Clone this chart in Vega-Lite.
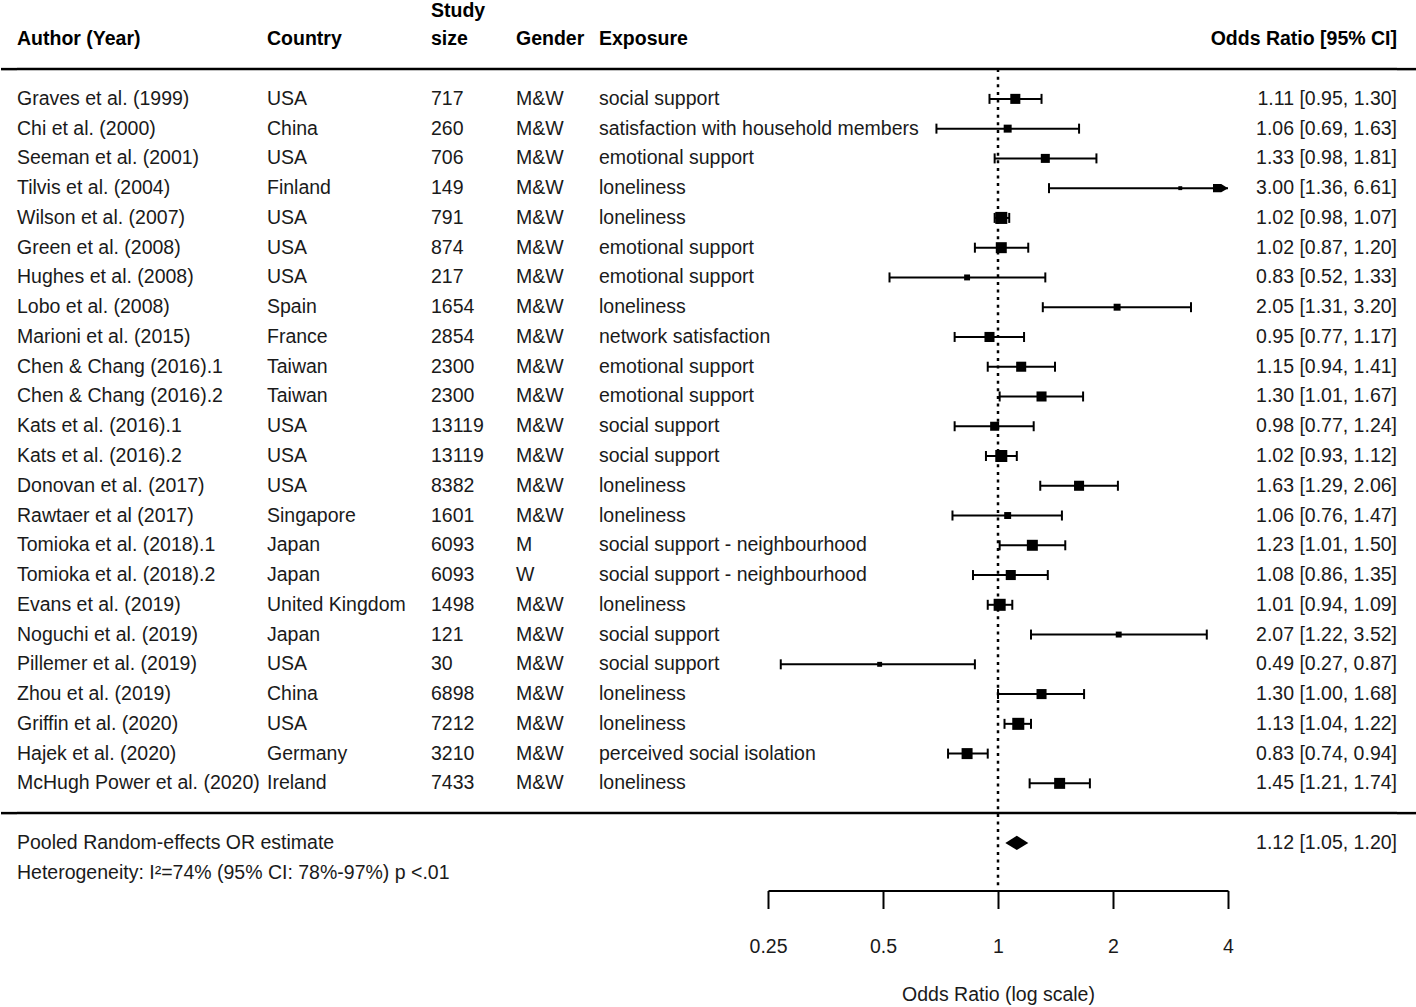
{
  "$schema": "https://vega.github.io/schema/vega-lite/v6.json",
  "padding": {"left": -1, "top": 0.5, "right": 0, "bottom": 0},
  "autosize": {"type": "pad"},
  "spacing": 0,
  "bounds": "flush",
  "config": {
    "view": {"stroke": null},
    "font": "Liberation Sans",
    "text": {"font": "Liberation Sans", "fontSize": 19.5, "color": "#1a1a1a", "baseline": "middle"},
    "axisX": {
      "domainColor": "#000", "domainWidth": 2, "tickColor": "#000", "tickWidth": 2, "tickSize": 18,
      "labelFont": "Liberation Sans", "labelFontSize": 19.5, "labelColor": "#1a1a1a", "labelPadding": 28.6, "labelFlush": false,
      "titleFont": "Liberation Sans", "titleFontSize": 19.5, "titleFontWeight": "normal", "titleColor": "#1a1a1a", "titlePadding": 30,
      "grid": false
    }
  },
  "datasets": {
    "one": [{}],
    "lines": [{"line": "line1"}, {"line": "line2"}],
    "headers": [
      {"col": "author", "label": "Author (Year)"},
      {"col": "country", "label": "Country"},
      {"col": "n_top", "label": "Study"},
      {"col": "n", "label": "size"},
      {"col": "gender", "label": "Gender"},
      {"col": "exposure", "label": "Exposure"},
      {"col": "ci", "label": "Odds Ratio [95% CI]"}
    ],
    "rows": [
      {"author": "Graves et al. (1999)", "country": "USA", "n": 717, "gender": "M&W", "exposure": "social support", "or": 1.11, "lo": 0.95, "hi": 1.30, "weight": 4.6, "ci": "1.11 [0.95, 1.30]"},
      {"author": "Chi et al. (2000)", "country": "China", "n": 260, "gender": "M&W", "exposure": "satisfaction with household members", "or": 1.06, "lo": 0.69, "hi": 1.63, "weight": 2.9, "ci": "1.06 [0.69, 1.63]"},
      {"author": "Seeman et al. (2001)", "country": "USA", "n": 706, "gender": "M&W", "exposure": "emotional support", "or": 1.33, "lo": 0.98, "hi": 1.81, "weight": 3.7, "ci": "1.33 [0.98, 1.81]"},
      {"author": "Tilvis et al. (2004)", "country": "Finland", "n": 149, "gender": "M&W", "exposure": "loneliness", "or": 3.00, "lo": 1.36, "hi": 6.61, "weight": 0.7, "ci": "3.00 [1.36, 6.61]"},
      {"author": "Wilson et al. (2007)", "country": "USA", "n": 791, "gender": "M&W", "exposure": "loneliness", "or": 1.02, "lo": 0.98, "hi": 1.07, "weight": 6.6, "ci": "1.02 [0.98, 1.07]"},
      {"author": "Green et al. (2008)", "country": "USA", "n": 874, "gender": "M&W", "exposure": "emotional support", "or": 1.02, "lo": 0.87, "hi": 1.20, "weight": 5.5, "ci": "1.02 [0.87, 1.20]"},
      {"author": "Hughes et al. (2008)", "country": "USA", "n": 217, "gender": "M&W", "exposure": "emotional support", "or": 0.83, "lo": 0.52, "hi": 1.33, "weight": 1.6, "ci": "0.83 [0.52, 1.33]"},
      {"author": "Lobo et al. (2008)", "country": "Spain", "n": 1654, "gender": "M&W", "exposure": "loneliness", "or": 2.05, "lo": 1.31, "hi": 3.20, "weight": 2.2, "ci": "2.05 [1.31, 3.20]"},
      {"author": "Marioni et al. (2015)", "country": "France", "n": 2854, "gender": "M&W", "exposure": "network satisfaction", "or": 0.95, "lo": 0.77, "hi": 1.17, "weight": 4.6, "ci": "0.95 [0.77, 1.17]"},
      {"author": "Chen & Chang (2016).1", "country": "Taiwan", "n": 2300, "gender": "M&W", "exposure": "emotional support", "or": 1.15, "lo": 0.94, "hi": 1.41, "weight": 4.6, "ci": "1.15 [0.94, 1.41]"},
      {"author": "Chen & Chang (2016).2", "country": "Taiwan", "n": 2300, "gender": "M&W", "exposure": "emotional support", "or": 1.30, "lo": 1.01, "hi": 1.67, "weight": 4.6, "ci": "1.30 [1.01, 1.67]"},
      {"author": "Kats et al. (2016).1", "country": "USA", "n": 13119, "gender": "M&W", "exposure": "social support", "or": 0.98, "lo": 0.77, "hi": 1.24, "weight": 3.7, "ci": "0.98 [0.77, 1.24]"},
      {"author": "Kats et al. (2016).2", "country": "USA", "n": 13119, "gender": "M&W", "exposure": "social support", "or": 1.02, "lo": 0.93, "hi": 1.12, "weight": 6.6, "ci": "1.02 [0.93, 1.12]"},
      {"author": "Donovan et al. (2017)", "country": "USA", "n": 8382, "gender": "M&W", "exposure": "loneliness", "or": 1.63, "lo": 1.29, "hi": 2.06, "weight": 4.6, "ci": "1.63 [1.29, 2.06]"},
      {"author": "Rawtaer et al (2017)", "country": "Singapore", "n": 1601, "gender": "M&W", "exposure": "loneliness", "or": 1.06, "lo": 0.76, "hi": 1.47, "weight": 2.2, "ci": "1.06 [0.76, 1.47]"},
      {"author": "Tomioka et al. (2018).1", "country": "Japan", "n": 6093, "gender": "M", "exposure": "social support - neighbourhood", "or": 1.23, "lo": 1.01, "hi": 1.50, "weight": 5.5, "ci": "1.23 [1.01, 1.50]"},
      {"author": "Tomioka et al. (2018).2", "country": "Japan", "n": 6093, "gender": "W", "exposure": "social support - neighbourhood", "or": 1.08, "lo": 0.86, "hi": 1.35, "weight": 4.6, "ci": "1.08 [0.86, 1.35]"},
      {"author": "Evans et al. (2019)", "country": "United Kingdom", "n": 1498, "gender": "M&W", "exposure": "loneliness", "or": 1.01, "lo": 0.94, "hi": 1.09, "weight": 6.6, "ci": "1.01 [0.94, 1.09]"},
      {"author": "Noguchi et al. (2019)", "country": "Japan", "n": 121, "gender": "M&W", "exposure": "social support", "or": 2.07, "lo": 1.22, "hi": 3.52, "weight": 1.6, "ci": "2.07 [1.22, 3.52]"},
      {"author": "Pillemer et al. (2019)", "country": "USA", "n": 30, "gender": "M&W", "exposure": "social support", "or": 0.49, "lo": 0.27, "hi": 0.87, "weight": 1.1, "ci": "0.49 [0.27, 0.87]"},
      {"author": "Zhou et al. (2019)", "country": "China", "n": 6898, "gender": "M&W", "exposure": "loneliness", "or": 1.30, "lo": 1.00, "hi": 1.68, "weight": 4.6, "ci": "1.30 [1.00, 1.68]"},
      {"author": "Griffin et al. (2020)", "country": "USA", "n": 7212, "gender": "M&W", "exposure": "loneliness", "or": 1.13, "lo": 1.04, "hi": 1.22, "weight": 6.6, "ci": "1.13 [1.04, 1.22]"},
      {"author": "Hajek et al. (2020)", "country": "Germany", "n": 3210, "gender": "M&W", "exposure": "perceived social isolation", "or": 0.83, "lo": 0.74, "hi": 0.94, "weight": 5.5, "ci": "0.83 [0.74, 0.94]"},
      {"author": "McHugh Power et al. (2020)", "country": "Ireland", "n": 7433, "gender": "M&W", "exposure": "loneliness", "or": 1.45, "lo": 1.21, "hi": 1.74, "weight": 5.5, "ci": "1.45 [1.21, 1.74]"},
      {"author": "Pooled Random-effects OR estimate", "or": 1.12, "lo": 1.05, "hi": 1.20, "ci": "1.12 [1.05, 1.20]"},
      {"author": "Heterogeneity: I²=74% (95% CI: 78%-97%) p <.01"}
    ]
  },
  "hconcat": [
    {
      "width": 16, "height": 869,
      "data": {"name": "lines"},
      "mark": {"type": "rule", "strokeWidth": 2.5, "color": "#000"},
      "encoding": {
        "x": {"datum": 0, "type": "quantitative", "scale": {"domain": [0, 1]}, "axis": null},
        "x2": {"datum": 1},
        "y": {"field": "line", "type": "nominal", "axis": null, "scale": {"type": "point", "padding": 0.6, "domain": ["hdr","line1","Graves et al. (1999)","Chi et al. (2000)","Seeman et al. (2001)","Tilvis et al. (2004)","Wilson et al. (2007)","Green et al. (2008)","Hughes et al. (2008)","Lobo et al. (2008)","Marioni et al. (2015)","Chen & Chang (2016).1","Chen & Chang (2016).2","Kats et al. (2016).1","Kats et al. (2016).2","Donovan et al. (2017)","Rawtaer et al (2017)","Tomioka et al. (2018).1","Tomioka et al. (2018).2","Evans et al. (2019)","Noguchi et al. (2019)","Pillemer et al. (2019)","Zhou et al. (2019)","Griffin et al. (2020)","Hajek et al. (2020)","McHugh Power et al. (2020)","line2","Pooled Random-effects OR estimate","Heterogeneity: I²=74% (95% CI: 78%-97%) p <.01"]}}
      }
    },
    {
      "width": 250, "height": 869,
      "encoding": {
        "x": {"datum": 0, "type": "quantitative", "scale": {"domain": [0, 1]}, "axis": null}
      },
      "layer": [
        {
          "data": {"name": "lines"},
          "mark": {"type": "rule", "strokeWidth": 2.5, "color": "#000"},
          "encoding": {
            "x2": {"datum": 1},
            "y": {"field": "line", "type": "nominal", "axis": null, "scale": {"type": "point", "padding": 0.6, "domain": ["hdr","line1","Graves et al. (1999)","Chi et al. (2000)","Seeman et al. (2001)","Tilvis et al. (2004)","Wilson et al. (2007)","Green et al. (2008)","Hughes et al. (2008)","Lobo et al. (2008)","Marioni et al. (2015)","Chen & Chang (2016).1","Chen & Chang (2016).2","Kats et al. (2016).1","Kats et al. (2016).2","Donovan et al. (2017)","Rawtaer et al (2017)","Tomioka et al. (2018).1","Tomioka et al. (2018).2","Evans et al. (2019)","Noguchi et al. (2019)","Pillemer et al. (2019)","Zhou et al. (2019)","Griffin et al. (2020)","Hajek et al. (2020)","McHugh Power et al. (2020)","line2","Pooled Random-effects OR estimate","Heterogeneity: I²=74% (95% CI: 78%-97%) p <.01"]}}
          }
        },
        {
          "data": {"name": "headers"},
          "transform": [{"filter": "datum.col === 'author'"}],
          "mark": {"type": "text", "align": "left", "fontWeight": "bold", "color": "#000"},
          "encoding": {"y": {"datum": "hdr", "type": "nominal"}, "text": {"field": "label"}}
        },
        {
          "data": {"name": "rows"},
          "mark": {"type": "text", "align": "left"},
          "encoding": {"y": {"field": "author", "type": "nominal"}, "text": {"field": "author"}}
        }
      ]
    },
    {
      "width": 164, "height": 869,
      "encoding": {
        "x": {"datum": 0, "type": "quantitative", "scale": {"domain": [0, 1]}, "axis": null}
      },
      "layer": [
        {
          "data": {"name": "lines"},
          "mark": {"type": "rule", "strokeWidth": 2.5, "color": "#000"},
          "encoding": {
            "x2": {"datum": 1},
            "y": {"field": "line", "type": "nominal", "axis": null, "scale": {"type": "point", "padding": 0.6, "domain": ["hdr","line1","Graves et al. (1999)","Chi et al. (2000)","Seeman et al. (2001)","Tilvis et al. (2004)","Wilson et al. (2007)","Green et al. (2008)","Hughes et al. (2008)","Lobo et al. (2008)","Marioni et al. (2015)","Chen & Chang (2016).1","Chen & Chang (2016).2","Kats et al. (2016).1","Kats et al. (2016).2","Donovan et al. (2017)","Rawtaer et al (2017)","Tomioka et al. (2018).1","Tomioka et al. (2018).2","Evans et al. (2019)","Noguchi et al. (2019)","Pillemer et al. (2019)","Zhou et al. (2019)","Griffin et al. (2020)","Hajek et al. (2020)","McHugh Power et al. (2020)","line2","Pooled Random-effects OR estimate","Heterogeneity: I²=74% (95% CI: 78%-97%) p <.01"]}}
          }
        },
        {
          "data": {"name": "headers"},
          "transform": [{"filter": "datum.col === 'country'"}],
          "mark": {"type": "text", "align": "left", "fontWeight": "bold", "color": "#000"},
          "encoding": {"y": {"datum": "hdr", "type": "nominal"}, "text": {"field": "label"}}
        },
        {
          "data": {"name": "rows"},
          "transform": [{"filter": "isValid(datum.country)"}],
          "mark": {"type": "text", "align": "left"},
          "encoding": {"y": {"field": "author", "type": "nominal"}, "text": {"field": "country"}}
        }
      ]
    },
    {
      "width": 85, "height": 869,
      "encoding": {
        "x": {"datum": 0, "type": "quantitative", "scale": {"domain": [0, 1]}, "axis": null}
      },
      "layer": [
        {
          "data": {"name": "lines"},
          "mark": {"type": "rule", "strokeWidth": 2.5, "color": "#000"},
          "encoding": {
            "x2": {"datum": 1},
            "y": {"field": "line", "type": "nominal", "axis": null, "scale": {"type": "point", "padding": 0.6, "domain": ["hdr","line1","Graves et al. (1999)","Chi et al. (2000)","Seeman et al. (2001)","Tilvis et al. (2004)","Wilson et al. (2007)","Green et al. (2008)","Hughes et al. (2008)","Lobo et al. (2008)","Marioni et al. (2015)","Chen & Chang (2016).1","Chen & Chang (2016).2","Kats et al. (2016).1","Kats et al. (2016).2","Donovan et al. (2017)","Rawtaer et al (2017)","Tomioka et al. (2018).1","Tomioka et al. (2018).2","Evans et al. (2019)","Noguchi et al. (2019)","Pillemer et al. (2019)","Zhou et al. (2019)","Griffin et al. (2020)","Hajek et al. (2020)","McHugh Power et al. (2020)","line2","Pooled Random-effects OR estimate","Heterogeneity: I²=74% (95% CI: 78%-97%) p <.01"]}}
          }
        },
        {
          "data": {"name": "headers"},
          "transform": [{"filter": "datum.col === 'n'"}],
          "mark": {"type": "text", "align": "left", "fontWeight": "bold", "color": "#000"},
          "encoding": {"y": {"datum": "hdr", "type": "nominal"}, "text": {"field": "label"}}
        },
        {
          "data": {"name": "headers"},
          "transform": [{"filter": "datum.col === 'n_top'"}],
          "mark": {"type": "text", "align": "left", "fontWeight": "bold", "color": "#000", "dy": -28.5},
          "encoding": {"y": {"datum": "hdr", "type": "nominal"}, "text": {"field": "label"}}
        },
        {
          "data": {"name": "rows"},
          "transform": [{"filter": "isValid(datum.n)"}],
          "mark": {"type": "text", "align": "left"},
          "encoding": {"y": {"field": "author", "type": "nominal"}, "text": {"field": "n", "type": "nominal"}}
        }
      ]
    },
    {
      "width": 83, "height": 869,
      "encoding": {
        "x": {"datum": 0, "type": "quantitative", "scale": {"domain": [0, 1]}, "axis": null}
      },
      "layer": [
        {
          "data": {"name": "lines"},
          "mark": {"type": "rule", "strokeWidth": 2.5, "color": "#000"},
          "encoding": {
            "x2": {"datum": 1},
            "y": {"field": "line", "type": "nominal", "axis": null, "scale": {"type": "point", "padding": 0.6, "domain": ["hdr","line1","Graves et al. (1999)","Chi et al. (2000)","Seeman et al. (2001)","Tilvis et al. (2004)","Wilson et al. (2007)","Green et al. (2008)","Hughes et al. (2008)","Lobo et al. (2008)","Marioni et al. (2015)","Chen & Chang (2016).1","Chen & Chang (2016).2","Kats et al. (2016).1","Kats et al. (2016).2","Donovan et al. (2017)","Rawtaer et al (2017)","Tomioka et al. (2018).1","Tomioka et al. (2018).2","Evans et al. (2019)","Noguchi et al. (2019)","Pillemer et al. (2019)","Zhou et al. (2019)","Griffin et al. (2020)","Hajek et al. (2020)","McHugh Power et al. (2020)","line2","Pooled Random-effects OR estimate","Heterogeneity: I²=74% (95% CI: 78%-97%) p <.01"]}}
          }
        },
        {
          "data": {"name": "headers"},
          "transform": [{"filter": "datum.col === 'gender'"}],
          "mark": {"type": "text", "align": "left", "fontWeight": "bold", "color": "#000"},
          "encoding": {"y": {"datum": "hdr", "type": "nominal"}, "text": {"field": "label"}}
        },
        {
          "data": {"name": "rows"},
          "transform": [{"filter": "isValid(datum.gender)"}],
          "mark": {"type": "text", "align": "left"},
          "encoding": {"y": {"field": "author", "type": "nominal"}, "text": {"field": "gender"}}
        }
      ]
    },
    {
      "width": 169, "height": 869,
      "encoding": {
        "x": {"datum": 0, "type": "quantitative", "scale": {"domain": [0, 1]}, "axis": null}
      },
      "layer": [
        {
          "data": {"name": "lines"},
          "mark": {"type": "rule", "strokeWidth": 2.5, "color": "#000"},
          "encoding": {
            "x2": {"datum": 1},
            "y": {"field": "line", "type": "nominal", "axis": null, "scale": {"type": "point", "padding": 0.6, "domain": ["hdr","line1","Graves et al. (1999)","Chi et al. (2000)","Seeman et al. (2001)","Tilvis et al. (2004)","Wilson et al. (2007)","Green et al. (2008)","Hughes et al. (2008)","Lobo et al. (2008)","Marioni et al. (2015)","Chen & Chang (2016).1","Chen & Chang (2016).2","Kats et al. (2016).1","Kats et al. (2016).2","Donovan et al. (2017)","Rawtaer et al (2017)","Tomioka et al. (2018).1","Tomioka et al. (2018).2","Evans et al. (2019)","Noguchi et al. (2019)","Pillemer et al. (2019)","Zhou et al. (2019)","Griffin et al. (2020)","Hajek et al. (2020)","McHugh Power et al. (2020)","line2","Pooled Random-effects OR estimate","Heterogeneity: I²=74% (95% CI: 78%-97%) p <.01"]}}
          }
        },
        {
          "data": {"name": "headers"},
          "transform": [{"filter": "datum.col === 'exposure'"}],
          "mark": {"type": "text", "align": "left", "fontWeight": "bold", "color": "#000"},
          "encoding": {"y": {"datum": "hdr", "type": "nominal"}, "text": {"field": "label"}}
        },
        {
          "data": {"name": "rows"},
          "transform": [{"filter": "isValid(datum.exposure)"}],
          "mark": {"type": "text", "align": "left"},
          "encoding": {"y": {"field": "author", "type": "nominal"}, "text": {"field": "exposure"}}
        }
      ]
    },
    {
      "width": 460, "height": 869,
      "layer": [
        {
          "data": {"name": "lines"},
          "mark": {"type": "rule", "strokeWidth": 2.5, "color": "#000"},
          "encoding": {
            "x": {"datum": 0.25, "type": "quantitative", "scale": {"type": "log", "base": 2, "domain": [0.25, 4], "clamp": true, "nice": false}, "axis": {"values": [0.25, 0.5, 1, 2, 4], "format": "~g", "title": "Odds Ratio (log scale)"}},
            "x2": {"datum": 4},
            "y": {"field": "line", "type": "nominal", "axis": null, "scale": {"type": "point", "padding": 0.6, "domain": ["hdr","line1","Graves et al. (1999)","Chi et al. (2000)","Seeman et al. (2001)","Tilvis et al. (2004)","Wilson et al. (2007)","Green et al. (2008)","Hughes et al. (2008)","Lobo et al. (2008)","Marioni et al. (2015)","Chen & Chang (2016).1","Chen & Chang (2016).2","Kats et al. (2016).1","Kats et al. (2016).2","Donovan et al. (2017)","Rawtaer et al (2017)","Tomioka et al. (2018).1","Tomioka et al. (2018).2","Evans et al. (2019)","Noguchi et al. (2019)","Pillemer et al. (2019)","Zhou et al. (2019)","Griffin et al. (2020)","Hajek et al. (2020)","McHugh Power et al. (2020)","line2","Pooled Random-effects OR estimate","Heterogeneity: I²=74% (95% CI: 78%-97%) p <.01"]}}
          }
        },
        {
          "data": {"name": "one"},
          "mark": {"type": "rule", "strokeWidth": 2.5, "strokeDash": [3, 4.6], "color": "#000"},
          "encoding": {
            "x": {"datum": 1, "type": "quantitative", "title": "Odds Ratio (log scale)"},
            "y": {"datum": "line1", "type": "nominal"},
            "y2": {"value": "height"}
          }
        },
        {
          "data": {"name": "rows"},
          "transform": [{"filter": "isValid(datum.weight)"}],
          "mark": {"type": "rule", "strokeWidth": 2, "color": "#000"},
          "encoding": {
            "x": {"field": "lo", "type": "quantitative", "title": "Odds Ratio (log scale)"},
            "x2": {"field": "hi"},
            "y": {"field": "author", "type": "nominal"}
          }
        },
        {
          "data": {"name": "rows"},
          "transform": [{"filter": "isValid(datum.weight)"}],
          "mark": {"type": "tick", "orient": "vertical", "thickness": 2, "size": 10, "color": "#000", "opacity": 1},
          "encoding": {
            "x": {"field": "lo", "type": "quantitative", "title": "Odds Ratio (log scale)"},
            "y": {"field": "author", "type": "nominal"}
          }
        },
        {
          "data": {"name": "rows"},
          "transform": [{"filter": "isValid(datum.weight) && datum.hi <= 4"}],
          "mark": {"type": "tick", "orient": "vertical", "thickness": 2, "size": 10, "color": "#000", "opacity": 1},
          "encoding": {
            "x": {"field": "hi", "type": "quantitative", "title": "Odds Ratio (log scale)"},
            "y": {"field": "author", "type": "nominal"}
          }
        },
        {
          "data": {"name": "rows"},
          "transform": [{"filter": "isValid(datum.weight)"}],
          "mark": {"type": "point", "shape": "square", "filled": true, "color": "#000", "opacity": 1, "strokeWidth": 0},
          "encoding": {
            "x": {"field": "or", "type": "quantitative", "title": "Odds Ratio (log scale)"},
            "y": {"field": "author", "type": "nominal"},
            "size": {"field": "weight", "type": "quantitative", "scale": {"domain": [0, 10], "range": [0, 219.7]}, "legend": null}
          }
        },
        {
          "data": {"name": "rows"},
          "transform": [{"filter": "isValid(datum.weight) && datum.hi > 4"}],
          "mark": {"type": "point", "shape": "M-1,-0.28L-0.45,-0.28L0,0L-0.45,0.28L-1,0.28Z", "filled": true, "color": "#000", "opacity": 1, "strokeWidth": 0, "size": 900},
          "encoding": {
            "x": {"field": "hi", "type": "quantitative", "title": "Odds Ratio (log scale)"},
            "y": {"field": "author", "type": "nominal"}
          }
        },
        {
          "data": {"name": "rows"},
          "transform": [{"filter": "isValid(datum.or) && !isValid(datum.weight)"}],
          "mark": {"type": "point", "shape": "M-1,0L0,-0.61L1,0L0,0.61Z", "filled": true, "color": "#000", "opacity": 1, "strokeWidth": 0, "size": 529},
          "encoding": {
            "x": {"field": "or", "type": "quantitative", "title": "Odds Ratio (log scale)"},
            "y": {"field": "author", "type": "nominal"}
          }
        }
      ]
    },
    {
      "width": 169, "height": 869,
      "encoding": {
        "x": {"datum": 1, "type": "quantitative", "scale": {"domain": [0, 1]}, "axis": null}
      },
      "layer": [
        {
          "data": {"name": "lines"},
          "mark": {"type": "rule", "strokeWidth": 2.5, "color": "#000"},
          "encoding": {
            "x": {"datum": 0, "type": "quantitative"},
            "x2": {"datum": 1},
            "y": {"field": "line", "type": "nominal", "axis": null, "scale": {"type": "point", "padding": 0.6, "domain": ["hdr","line1","Graves et al. (1999)","Chi et al. (2000)","Seeman et al. (2001)","Tilvis et al. (2004)","Wilson et al. (2007)","Green et al. (2008)","Hughes et al. (2008)","Lobo et al. (2008)","Marioni et al. (2015)","Chen & Chang (2016).1","Chen & Chang (2016).2","Kats et al. (2016).1","Kats et al. (2016).2","Donovan et al. (2017)","Rawtaer et al (2017)","Tomioka et al. (2018).1","Tomioka et al. (2018).2","Evans et al. (2019)","Noguchi et al. (2019)","Pillemer et al. (2019)","Zhou et al. (2019)","Griffin et al. (2020)","Hajek et al. (2020)","McHugh Power et al. (2020)","line2","Pooled Random-effects OR estimate","Heterogeneity: I²=74% (95% CI: 78%-97%) p <.01"]}}
          }
        },
        {
          "data": {"name": "headers"},
          "transform": [{"filter": "datum.col === 'ci'"}],
          "mark": {"type": "text", "align": "right", "fontWeight": "bold", "color": "#000"},
          "encoding": {"y": {"datum": "hdr", "type": "nominal"}, "text": {"field": "label"}}
        },
        {
          "data": {"name": "rows"},
          "transform": [{"filter": "isValid(datum.ci)"}],
          "mark": {"type": "text", "align": "right"},
          "encoding": {"y": {"field": "author", "type": "nominal"}, "text": {"field": "ci"}}
        }
      ]
    },
    {
      "width": 19, "height": 869,
      "data": {"name": "lines"},
      "mark": {"type": "rule", "strokeWidth": 2.5, "color": "#000"},
      "encoding": {
        "x": {"datum": 0, "type": "quantitative", "scale": {"domain": [0, 1]}, "axis": null},
        "x2": {"datum": 1},
        "y": {"field": "line", "type": "nominal", "axis": null, "scale": {"type": "point", "padding": 0.6, "domain": ["hdr","line1","Graves et al. (1999)","Chi et al. (2000)","Seeman et al. (2001)","Tilvis et al. (2004)","Wilson et al. (2007)","Green et al. (2008)","Hughes et al. (2008)","Lobo et al. (2008)","Marioni et al. (2015)","Chen & Chang (2016).1","Chen & Chang (2016).2","Kats et al. (2016).1","Kats et al. (2016).2","Donovan et al. (2017)","Rawtaer et al (2017)","Tomioka et al. (2018).1","Tomioka et al. (2018).2","Evans et al. (2019)","Noguchi et al. (2019)","Pillemer et al. (2019)","Zhou et al. (2019)","Griffin et al. (2020)","Hajek et al. (2020)","McHugh Power et al. (2020)","line2","Pooled Random-effects OR estimate","Heterogeneity: I²=74% (95% CI: 78%-97%) p <.01"]}}
      }
    }
  ]
}
